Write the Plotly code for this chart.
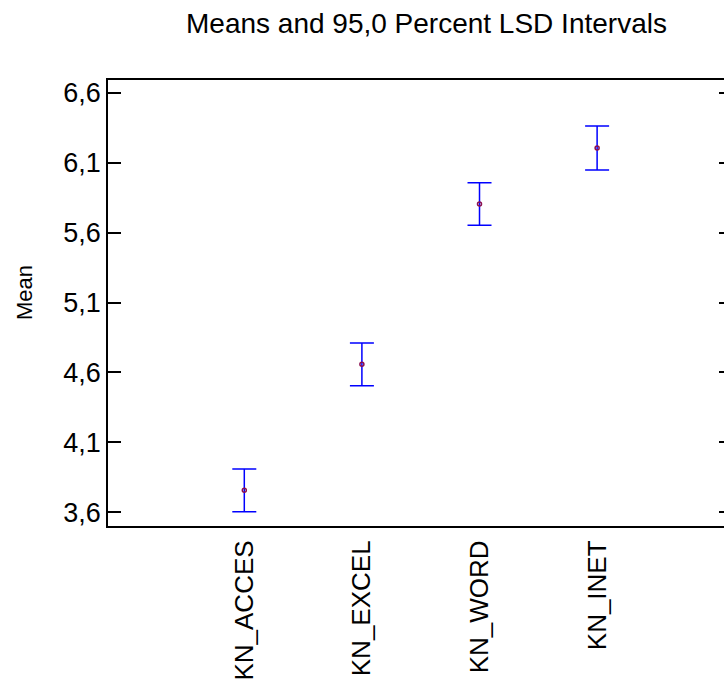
import plotly.graph_objects as go

categories = ["KN_ACCES", "KN_EXCEL", "KN_WORD", "KN_INET"]
means = [3.757, 4.658, 5.805, 6.205]
lower = [3.604, 4.504, 5.652, 6.048]
upper = [3.909, 4.811, 5.957, 6.362]
ytick_vals = [3.6, 4.1, 4.6, 5.1, 5.6, 6.1, 6.6]
ytick_text = ["3,6", "4,1", "4,6", "5,1", "5,6", "6,1", "6,6"]

xpos = list(range(1, len(categories) + 1))
err_plus = [u - m for u, m in zip(upper, means)]
err_minus = [m - l for m, l in zip(means, lower)]

FONT = "Liberation Sans, Arial, sans-serif"

fig = go.Figure()
fig.add_trace(go.Scatter(
    x=xpos, y=means, mode="markers",
    marker=dict(symbol="circle-open", size=4, color="#8B1050", line=dict(width=1.5, color="#8B1050")),
    error_y=dict(type="data", symmetric=False, array=err_plus, arrayminus=err_minus,
                 color="#0000FF", thickness=1.5, width=12),
    showlegend=False, hoverinfo="skip",
))
# invisible trace for the right-hand tick axis
fig.add_trace(go.Scatter(x=xpos, y=means, yaxis="y2", mode="markers",
                         marker=dict(opacity=0), showlegend=False, hoverinfo="skip"))

fig.update_layout(
    width=724, height=693,
    margin=dict(l=108, r=0, t=80, b=167),
    paper_bgcolor="white", plot_bgcolor="white",
    font=dict(family=FONT, color="black"),
    title=dict(text="Means and 95,0 Percent LSD Intervals", font=dict(size=28, family=FONT, color="black"),
               x=0.517, xref="paper", xanchor="center", y=1 - 23 / 693, yref="container", yanchor="middle"),
    xaxis=dict(range=[-0.159, 5.079], tickvals=xpos, ticktext=categories, tickangle=-90,
               tickfont=dict(size=26, family=FONT, color="black"),
               showline=True, linecolor="black", linewidth=2, mirror=True,
               ticks="", showgrid=False, zeroline=False, ticklabelstandoff=2),
    yaxis=dict(range=[3.502, 6.691], tickvals=ytick_vals, ticktext=ytick_text,
               tickfont=dict(size=27, family=FONT, color="black"),
               showline=True, linecolor="black", linewidth=1.5, mirror=False,
               ticks="inside", ticklen=13, tickwidth=2, tickcolor="black",
               showgrid=False, zeroline=False),
    yaxis2=dict(range=[3.502, 6.691], tickvals=ytick_vals, overlaying="y", side="right",
                showticklabels=False, ticks="inside", ticklen=5, tickwidth=2, tickcolor="black",
                showline=False, showgrid=False, zeroline=False),
    annotations=[dict(text="Mean", textangle=-90, xref="paper", yref="paper",
                      x=-84 / 616, y=(526 - 293) / 446, xanchor="center", yanchor="middle",
                      showarrow=False, font=dict(size=22, family=FONT, color="black"))],
)

fig.write_html("out.html")
